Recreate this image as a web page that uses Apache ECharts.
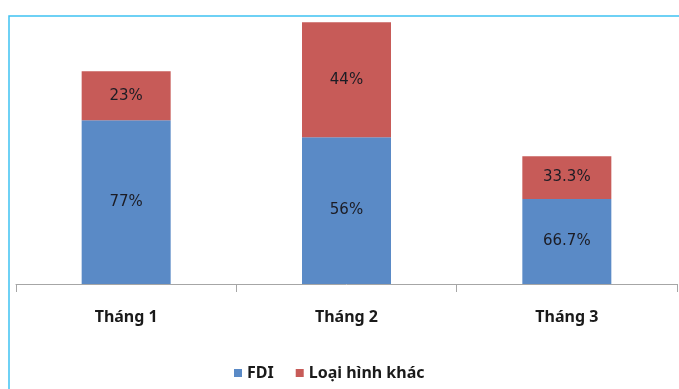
<!DOCTYPE html>
<html>
<head>
<meta charset="utf-8">
<script src="https://cdn.jsdelivr.net/npm/echarts@6/dist/echarts.min.js"></script>
<style>
  html, body { margin: 0; padding: 0; background: #fff; }
  #main { width: 679px; height: 389px; }
</style>
</head>
<body>
<div id="main"></div>
<script>
// categories and values (bar heights)
const months = ['Tháng 1', 'Tháng 2', 'Tháng 3'];
const fdiValues = [77, 69, 40];
const otherValues = [23, 54, 20];
// the percentage texts printed in the bars
const fdiLabels = ['77%', '56%', '66.7%'];
const otherLabels = ['23%', '44%', '33.3%'];

const chart = echarts.init(document.getElementById('main'));

const labelStyle = (texts) => ({
  show: true,
  position: 'inside',
  color: '#1c1c24',
  fontFamily: 'DejaVu Sans',
  fontSize: 15,
  formatter: p => texts[p.dataIndex]
});

chart.setOption({
  animation: false,
  graphic: [{
    type: 'rect',
    shape: {x: 9, y: 16, width: 720, height: 420},
    style: {fill: 'none', stroke: '#3fc2f2', lineWidth: 1.5},
    silent: true
  }],
  grid: {
    left: 16,
    right: 2,
    top: 18,
    bottom: 105
  },
  legend: {
    bottom: 3,
    left: 229,
    itemWidth: 8,
    itemHeight: 8,
    itemGap: 22,
    icon: 'rect',
    textStyle: {
      fontFamily: 'Noto Sans',
      fontWeight: 'bold',
      fontSize: 16,
      color: '#1a1a1a'
    },
    data: ['FDI', 'Loại hình khác']
  },
  xAxis: {
    type: 'category',
    data: months,
    axisLine: {lineStyle: {color: '#a6a6a6', width: 1}},
    axisTick: {show: true, interval: 0, length: 8, lineStyle: {color: '#a6a6a6'}},
    axisLabel: {
      margin: 25,
      fontFamily: 'Noto Sans',
      fontWeight: 'bold',
      fontSize: 16,
      color: '#1a1a1a'
    }
  },
  yAxis: {
    type: 'value',
    show: false,
    min: 0,
    max: 125,
    splitLine: {show: false}
  },
  series: [{
    name: 'FDI',
    type: 'bar',
    stack: 'total',
    barWidth: 89,
    itemStyle: {color: '#5a8ac6'},
    label: labelStyle(fdiLabels),
    data: fdiValues
  }, {
    name: 'Loại hình khác',
    type: 'bar',
    stack: 'total',
    barWidth: 89,
    itemStyle: {color: '#c75b58'},
    label: labelStyle(otherLabels),
    data: otherValues
  }]
});
</script>
</body>
</html>
